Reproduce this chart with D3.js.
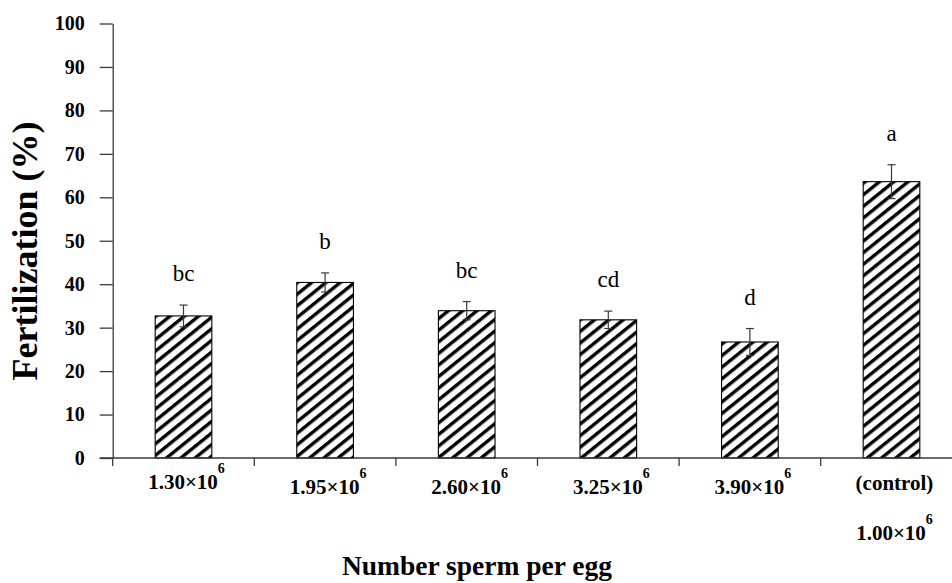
<!DOCTYPE html>
<html>
<head>
<meta charset="utf-8">
<script src="https://cdn.jsdelivr.net/npm/d3@7"></script>
<style>
  html, body { margin: 0; padding: 0; background: #fff; }
  svg { display: block; font-family: "Liberation Serif", "Times New Roman", serif; }
</style>
</head>
<body>
<svg id="chart" width="952" height="583"></svg>
<script>
// Fertilization (%) by number of sperm per egg, mean ± SE with significance letters
const categories = ["1.30", "1.95", "2.60", "3.25", "3.90", "control"];
const labelMain = ["1.30×10", "1.95×10", "2.60×10", "3.25×10", "3.90×10", "(control)"];
const labelExp = ["6", "6", "6", "6", "6", ""];
const controlNote = "1.00×10";
const fertilization = [32.7, 40.4, 33.9, 31.8, 26.7, 63.6];
const stdError = [2.5, 2.2, 2.1, 2.0, 3.1, 3.9];
const letters = ["bc", "b", "bc", "cd", "d", "a"];
const yTicks = [0, 10, 20, 30, 40, 50, 60, 70, 80, 90, 100];

const svg = d3.select("#chart");
const axisColor = "#3a3a3a";

const x = d3.scaleBand()
  .domain(categories)
  .range([112.7, 962.3])
  .paddingInner(0.6)
  .paddingOuter(0.3);

const y = d3.scaleLinear().domain([0, 100]).range([458, 23.5]);

// diagonal hatch fill
const defs = svg.append("defs");
const pat = defs.append("pattern")
  .attr("id", "hatch")
  .attr("patternUnits", "userSpaceOnUse")
  .attr("width", 12)
  .attr("height", 9)
  .attr("patternTransform", "rotate(-39)");
pat.append("rect").attr("width", 12).attr("height", 9).attr("fill", "#fff");
pat.append("rect").attr("y", 0).attr("width", 12).attr("height", 3.4).attr("fill", "#000");

// bars
svg.append("g").selectAll("rect")
  .data(categories)
  .join("rect")
  .attr("x", d => x(d))
  .attr("y", (d, i) => y(fertilization[i]))
  .attr("width", x.bandwidth())
  .attr("height", (d, i) => y(0) - y(fertilization[i]))
  .attr("fill", "url(#hatch)")
  .attr("stroke", "#000")
  .attr("stroke-width", 1.1);

// error bars
const eb = svg.append("g").attr("stroke", axisColor).attr("stroke-width", 1.2).attr("fill", "none");
categories.forEach((c, i) => {
  const cx = x(c) + x.bandwidth() / 2;
  const hi = y(fertilization[i] + stdError[i]);
  const lo = y(fertilization[i] - stdError[i]);
  eb.append("line").attr("x1", cx).attr("x2", cx).attr("y1", hi).attr("y2", lo);
  eb.append("line").attr("x1", cx - 4).attr("x2", cx + 4).attr("y1", hi).attr("y2", hi);
  eb.append("line").attr("x1", cx - 4).attr("x2", cx + 4).attr("y1", lo).attr("y2", lo);
});

// significance letters
svg.append("g").selectAll("text")
  .data(categories)
  .join("text")
  .attr("x", d => x(d) + x.bandwidth() / 2)
  .attr("y", (d, i) => y(fertilization[i] + stdError[i]) - 24)
  .attr("text-anchor", "middle")
  .attr("font-size", 23)
  .attr("fill", "#000")
  .text((d, i) => letters[i]);

// y axis
const yAxis = svg.append("g")
  .attr("transform", `translate(${x.range()[0]},0)`)
  .call(d3.axisLeft(y).tickValues(yTicks).tickSize(13).tickPadding(15).tickSizeOuter(0));
yAxis.select(".domain").attr("stroke", axisColor).attr("stroke-width", 1.3);
yAxis.selectAll(".tick line").attr("stroke", axisColor).attr("stroke-width", 1.3);
yAxis.selectAll(".tick text")
  .attr("font-family", "Liberation Serif, serif")
  .attr("font-weight", "bold")
  .attr("font-size", 20)
  .attr("fill", "#000");

// x axis: baseline plus category boundary ticks
svg.append("line")
  .attr("x1", x.range()[0] - 13).attr("x2", 952)
  .attr("y1", y(0)).attr("y2", y(0))
  .attr("stroke", axisColor).attr("stroke-width", 1.3);
const bounds = d3.range(categories.length + 1).map(i => x.range()[0] + i * x.step());
svg.append("g").selectAll("line")
  .data(bounds)
  .join("line")
  .attr("x1", d => d).attr("x2", d => d)
  .attr("y1", y(0)).attr("y2", y(0) + 8)
  .attr("stroke", axisColor).attr("stroke-width", 1.3);

// category labels with exponent
const labelY = [489, 494, 494, 494, 494, 490];
categories.forEach((c, i) => {
  const t = svg.append("text")
    .attr("x", x(c) + x.bandwidth() / 2 + 3)
    .attr("y", labelY[i])
    .attr("text-anchor", "middle")
    .attr("font-weight", "bold")
    .attr("font-size", 21)
    .attr("fill", "#000");
  t.append("tspan").text(labelMain[i]);
  if (labelExp[i]) {
    t.append("tspan").attr("dy", -16).attr("font-size", 14).text(labelExp[i]);
  }
});
{
  const c = categories[categories.length - 1];
  const t = svg.append("text")
    .attr("x", x(c) + x.bandwidth() / 2 + 3)
    .attr("y", 540)
    .attr("text-anchor", "middle")
    .attr("font-weight", "bold")
    .attr("font-size", 21)
    .attr("fill", "#000");
  t.append("tspan").text(controlNote);
  t.append("tspan").attr("dy", -16).attr("font-size", 14).text("6");
}

// axis titles
svg.append("text")
  .attr("x", 477)
  .attr("y", 575)
  .attr("text-anchor", "middle")
  .attr("font-weight", "bold")
  .attr("font-size", 27.5)
  .attr("fill", "#000")
  .text("Number sperm per egg");

svg.append("text")
  .attr("transform", "translate(37,251) rotate(-90)")
  .attr("text-anchor", "middle")
  .attr("font-weight", "bold")
  .attr("font-size", 36)
  .attr("fill", "#000")
  .text("Fertilization (%)");
</script>
</body>
</html>
